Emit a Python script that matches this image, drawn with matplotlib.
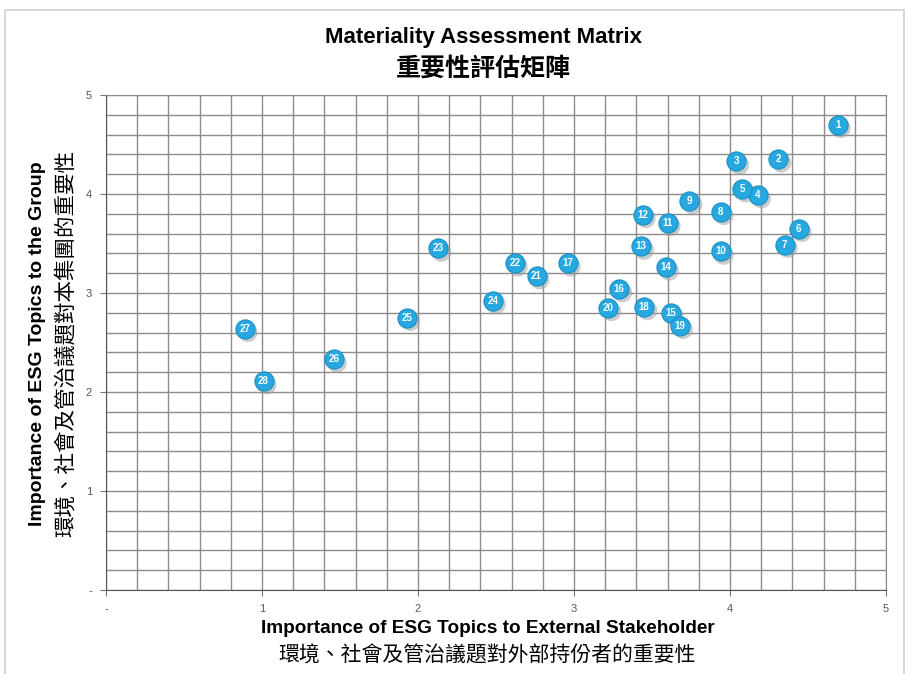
import matplotlib.pyplot as plt
import matplotlib.patches as mpatches
import numpy as np

plt.rcParams['font.family'] = ['Liberation Sans', 'Noto Sans CJK TC', 'DejaVu Sans']

# topic numbers and positions (external, group)
topics = list(range(1, 29))
external = [4.69, 4.31, 4.04, 4.18, 4.08, 4.44, 4.35, 3.94, 3.74, 3.94,
            3.60, 3.44, 3.43, 3.59, 3.62, 3.29, 2.96, 3.45, 3.68, 3.22,
            2.76, 2.62, 2.13, 2.48, 1.93, 1.46, 0.89, 1.01]
group = [4.70, 4.35, 4.33, 3.99, 4.05, 3.65, 3.49, 3.82, 3.93, 3.42,
         3.71, 3.79, 3.47, 3.26, 2.80, 3.04, 3.30, 2.86, 2.67, 2.85,
         3.17, 3.30, 3.45, 2.92, 2.75, 2.33, 2.64, 2.11]

tick_vals = [0, 1, 2, 3, 4, 5]
tick_labels = ['-', '1', '2', '3', '4', '5']

cjk = ['Noto Sans CJK TC', 'DejaVu Sans']

fig = plt.figure(figsize=(9.08, 6.74), dpi=100)
ax = fig.add_axes([0.1167, 0.1246, 0.8591, 0.7344])

# figure border
fig.patches.append(mpatches.Rectangle((0.006, -0.01), 0.99, 0.995, transform=fig.transFigure,
                                      fill=False, edgecolor='#d0d0d0', linewidth=1.2))

ax.set_xlim(0, 5)
ax.set_ylim(0, 5)
ax.set_xticks(tick_vals)
ax.set_xticklabels(tick_labels)
ax.set_yticks(tick_vals)
ax.set_yticklabels(tick_labels)
ax.set_xticks(np.arange(0, 5.01, 0.2), minor=True)
ax.set_yticks(np.arange(0, 5.01, 0.2), minor=True)
ax.grid(True, which='both', color='#8c8c8c', linewidth=1.0)
ax.tick_params(which='minor', length=0)
ax.tick_params(which='major', length=4, color='#777777', labelsize=8, labelcolor='#555555', pad=6)
ax.set_axisbelow(True)
for s in ax.spines.values():
    s.set_color('#8c8c8c')
ax.spines['left'].set_color('#555555')
ax.spines['bottom'].set_color('#555555')

# shadow then bubbles
ax.scatter(np.array(external) + 0.02, np.array(group) - 0.035, s=200, color='#9a9a9a', alpha=0.5,
           edgecolors='none', zorder=3, clip_on=False)
ax.scatter(external, group, s=190, color='#27a8e0', edgecolors='#1a8fc4', linewidths=0.8,
           zorder=4, clip_on=False)
for t, x, y in zip(topics, external, group):
    ax.text(x, y, str(t), color='white', fontsize=7, fontweight='bold',
            ha='center', va='center', zorder=5)

fig.text(0.532, 0.944, 'Materiality Assessment Matrix', ha='center', va='center',
         fontsize=16, fontweight='bold')
fig.text(0.532, 0.898, '重要性評估矩陣', ha='center', va='center',
         fontsize=18, fontweight='bold', family=cjk)

fig.text(0.537, 0.068, 'Importance of ESG Topics to External Stakeholder', ha='center', va='center',
         fontsize=13.7, fontweight='bold')
fig.text(0.537, 0.028, '環境、社會及管治議題對外部持份者的重要性', ha='center', va='center',
         fontsize=15, family=cjk)

fig.text(0.041, 0.49, 'Importance of ESG Topics to the Group', ha='center', va='center',
         fontsize=14, fontweight='bold', rotation=90)
fig.text(0.073, 0.49, '環境、社會及管治議題對本集團的重要性', ha='center', va='center',
         fontsize=15.5, rotation=90, family=cjk)

fig.savefig('out.png', dpi=100)
